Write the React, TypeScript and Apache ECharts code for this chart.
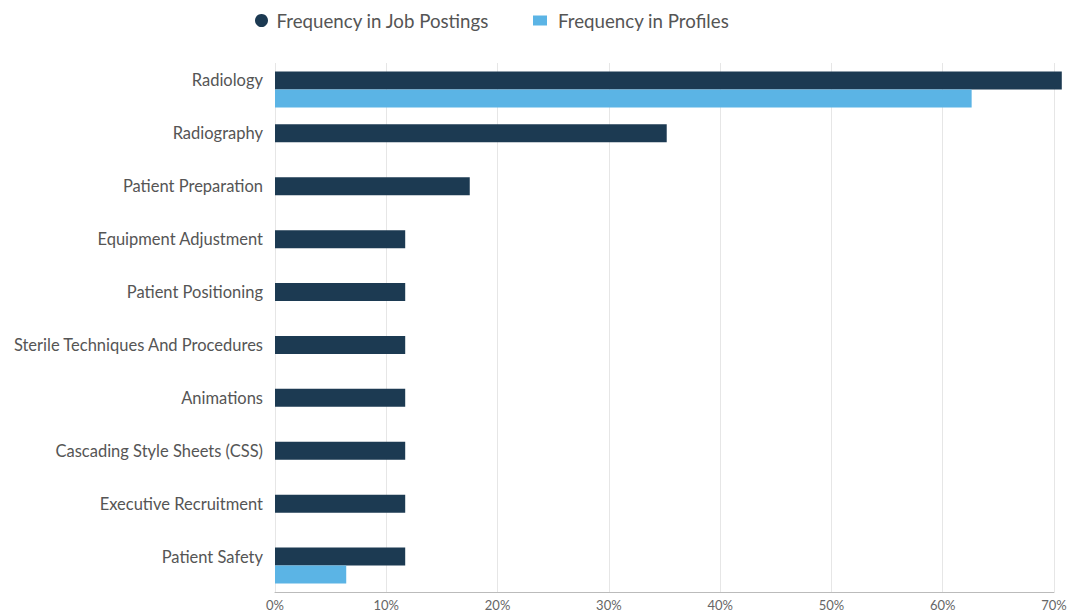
import React, { useEffect, useRef } from "react";
import * as echarts from "echarts";

const categories = [
  "Radiology",
  "Radiography",
  "Patient Preparation",
  "Equipment Adjustment",
  "Patient Positioning",
  "Sterile Techniques And Procedures",
  "Animations",
  "Cascading Style Sheets (CSS)",
  "Executive Recruitment",
  "Patient Safety",
];
const jobPostings = [70.7, 35.2, 17.5, 11.7, 11.7, 11.7, 11.7, 11.7, 11.7, 11.7];
const profiles = [62.6, 0, 0, 0, 0, 0, 0, 0, 0, 6.4];
const xTicks = [0, 10, 20, 30, 40, 50, 60, 70];

const JOB = "Frequency in Job Postings";
const PROF = "Frequency in Profiles";
const FONT = "Lato, 'Open Sans', sans-serif";

export default function App() {
  const ref = useRef<HTMLDivElement>(null);
  useEffect(() => {
    if (!ref.current) return;
    const chart = echarts.init(ref.current, undefined, { renderer: "svg" });
    chart.setOption({
      animation: false,
      textStyle: { fontFamily: FONT },
      legend: [
        {
          left: 255,
          top: 11,
          padding: 0,
          data: [{ name: JOB, icon: "circle" }],
          itemWidth: 20,
          itemHeight: 13,
          textStyle: { fontSize: 18.7, color: "#555", fontFamily: FONT },
        },
        {
          left: 533,
          top: 11,
          padding: 0,
          data: [{ name: PROF, icon: "rect" }],
          itemWidth: 14,
          itemHeight: 10,
          textStyle: { fontSize: 18.7, color: "#555", fontFamily: FONT, padding: [0, 0, 0, 6] },
        },
      ],
      grid: { left: 275, right: 19, top: 63, bottom: 22, containLabel: false },
      xAxis: {
        type: "value",
        min: xTicks[0],
        max: xTicks[xTicks.length - 1],
        interval: 10,
        axisLine: { show: true, lineStyle: { color: "#bbb" } },
        axisTick: { show: false },
        axisLabel: {
          formatter: (v: number) => v + "%",
          fontSize: 13,
          color: "#666",
          margin: 6,
          fontFamily: FONT,
        },
        splitLine: { show: true, lineStyle: { color: "#e6e6e6" } },
      },
      yAxis: {
        type: "category",
        data: categories,
        inverse: true,
        axisLine: { show: false },
        axisTick: { show: false },
        axisLabel: {
          fontSize: 16.5,
          color: "#555",
          margin: 12,
          verticalAlign: "bottom",
          lineHeight: 18,
          fontFamily: FONT,
        },
      },
      series: [
        {
          name: JOB,
          type: "bar",
          data: jobPostings,
          barWidth: 18,
          barGap: "0%",
          clip: false,
          itemStyle: { color: "#1c3a52" },
        },
        {
          name: PROF,
          type: "bar",
          data: profiles,
          barWidth: 18,
          barGap: "0%",
          clip: false,
          itemStyle: { color: "#5bb4e5" },
        },
      ],
    });
    return () => chart.dispose();
  }, []);
  return <div ref={ref} style={{ width: 1073, height: 614, position: "absolute", left: 0, top: 0, background: "#fff" }} />;
}
